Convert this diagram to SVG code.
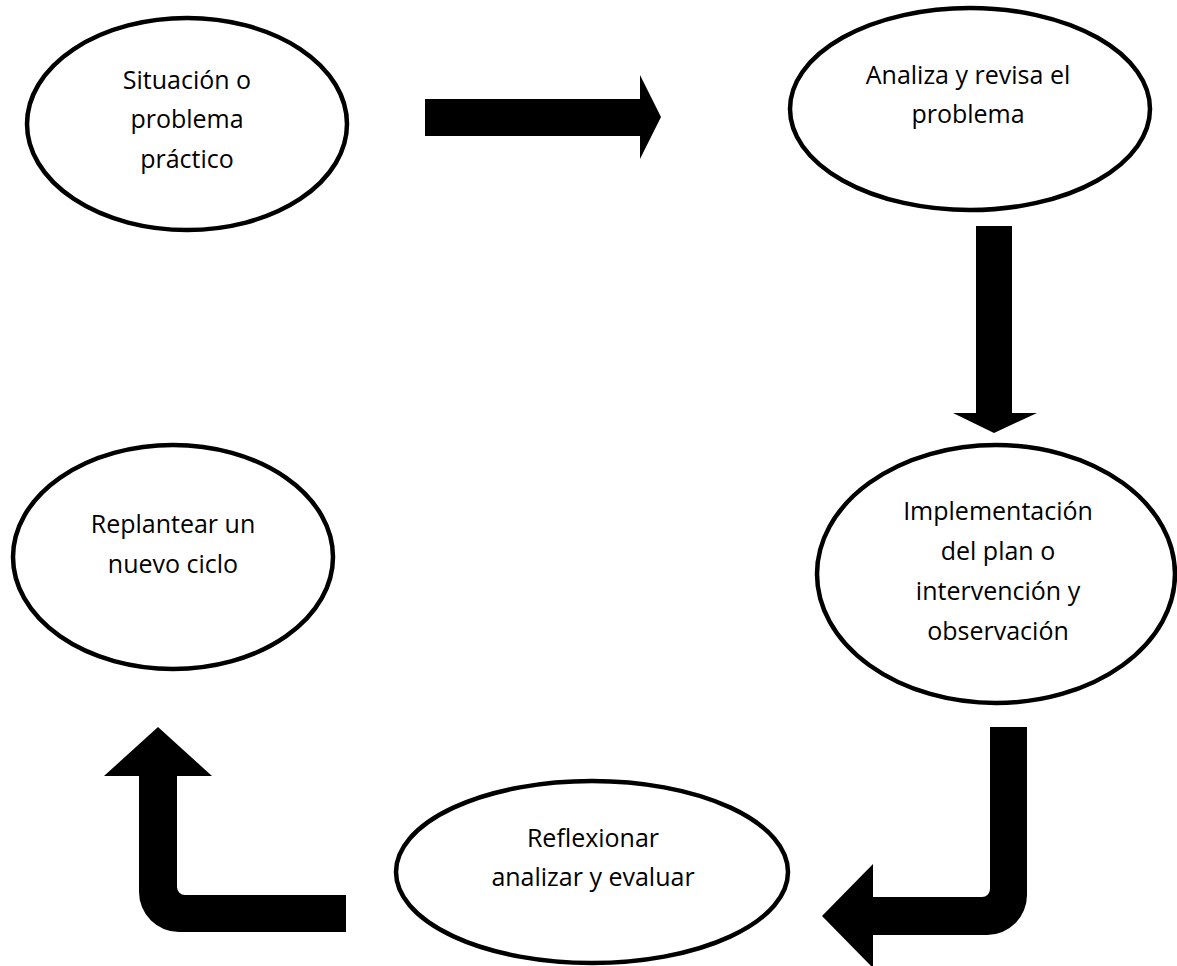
<svg xmlns="http://www.w3.org/2000/svg" width="1177" height="966" viewBox="0 0 1177 966">
<style>
  .node ellipse { fill: #ffffff; stroke: #000000; stroke-width: 4.5; }
  .node text { font-family: "Open Sans", "Liberation Sans", sans-serif; font-size: 25px; fill: #000000; text-anchor: middle; }
  .arrow { fill: #000000; stroke: none; }
</style>
<rect width="1177" height="966" fill="#ffffff"/>
<g id="connectors">
  <polygon class="arrow" points="425,99 640,99 640,75 661,117 640,159 640,136 425,136"/>
  <polygon class="arrow" points="976,226 1012,226 1012,413 1037,413 994,433 953,413 976,413"/>
  <path class="arrow" d="M 990 727 L 1027 727 L 1027 895 A 40 40 0 0 1 987 935 L 873 935 L 873 968 L 822 916 L 873 864 L 873 897 L 982 897 A 8 8 0 0 0 990 889 Z"/>
  <path class="arrow" d="M 346 895 L 346 932 L 179 932 A 40 40 0 0 1 139 892 L 139 776 L 104 776 L 158 727 L 212 776 L 177 776 L 177 887 A 8 8 0 0 0 185 895 Z"/>
</g>
<g id="node-situacion" class="node">
  <ellipse cx="187" cy="124" rx="160" ry="106"/>
  <text x="187" y="89">Situación o</text>
  <text x="187" y="128">problema</text>
  <text x="187" y="168">práctico</text>
</g>
<g id="node-analiza" class="node">
  <ellipse cx="970" cy="109" rx="180" ry="101"/>
  <text x="968" y="84">Analiza y revisa el</text>
  <text x="968" y="123">problema</text>
</g>
<g id="node-implementacion" class="node">
  <ellipse cx="996" cy="574" rx="179" ry="129"/>
  <text x="998" y="520">Implementación</text>
  <text x="998" y="560">del plan o</text>
  <text x="998" y="600">intervención y</text>
  <text x="998" y="640">observación</text>
</g>
<g id="node-replantear" class="node">
  <ellipse cx="173" cy="557" rx="160" ry="112"/>
  <text x="173" y="533">Replantear un</text>
  <text x="173" y="573">nuevo ciclo</text>
</g>
<g id="node-reflexionar" class="node">
  <ellipse cx="592" cy="872" rx="196" ry="91"/>
  <text x="593" y="847">Reflexionar</text>
  <text x="593" y="886">analizar y evaluar</text>
</g>
</svg>
